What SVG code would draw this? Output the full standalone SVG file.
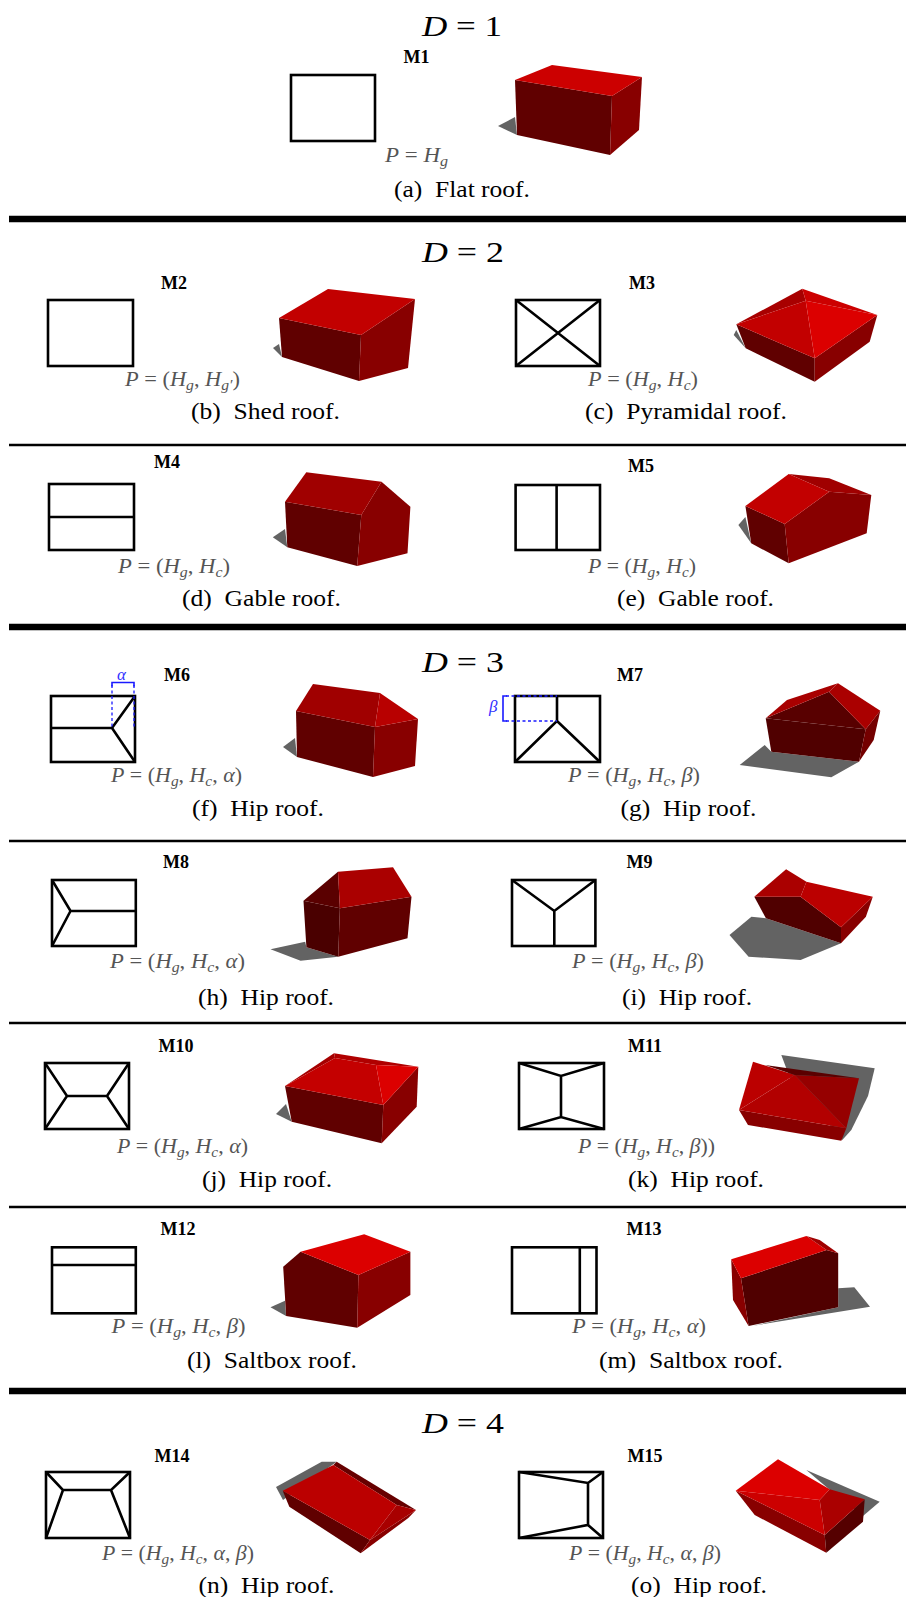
<svg xmlns="http://www.w3.org/2000/svg" width="906" height="1597" viewBox="0 0 906 1597">
<style>
  .bg{fill:#fff}
  .thin{stroke:#000;stroke-width:2.5}
  .thick{stroke:#000;stroke-width:6.5}
  .plan{fill:none;stroke:#000;stroke-width:2.6;stroke-linejoin:miter}
  text{font-family:'Liberation Serif','DejaVu Serif',serif}
  .mlab{font-weight:bold;font-size:18px;text-anchor:middle}
  .dlab{font-size:30px}
  .cap{font-size:24px}
  .par{font-size:20px;fill:#555}
  .i{font-style:italic}
  .sub{font-size:14px}
  .sh{fill:#636363}
  .w1{fill:#600000}
  .w2{fill:#880000}
  .dim{fill:none;stroke:#1a1aff;stroke-width:1.6}
  .dash{fill:none;stroke:#1a1aff;stroke-width:1.3;stroke-dasharray:3 2.5}
  .greek{font-style:italic;font-size:17px;fill:#3030ff}
</style>
<rect class="bg" x="0" y="0" width="906" height="1597"/>

<!-- horizontal rules between dimension groups and rows -->
<g id="rules">
  <line class="thick" x1="9" y1="219" x2="906" y2="219"/>
  <line class="thin" x1="9" y1="445" x2="906" y2="445"/>
  <line class="thick" x1="9" y1="627" x2="906" y2="627"/>
  <line class="thin" x1="9" y1="841" x2="906" y2="841"/>
  <line class="thin" x1="9" y1="1023" x2="906" y2="1023"/>
  <line class="thin" x1="9" y1="1207" x2="906" y2="1207"/>
  <line class="thick" x1="9" y1="1391" x2="906" y2="1391"/>
</g>

<!-- group headings -->
<g id="headings">
  <text class="dlab" x="422" y="36" textLength="80" lengthAdjust="spacingAndGlyphs"><tspan class="i">D</tspan> = 1</text>
  <text class="dlab" x="422" y="262" textLength="82" lengthAdjust="spacingAndGlyphs"><tspan class="i">D</tspan> = 2</text>
  <text class="dlab" x="422" y="672" textLength="82" lengthAdjust="spacingAndGlyphs"><tspan class="i">D</tspan> = 3</text>
  <text class="dlab" x="422" y="1433" textLength="82" lengthAdjust="spacingAndGlyphs"><tspan class="i">D</tspan> = 4</text>
</g>

<!-- M1 flat roof -->
<g id="m1">
  <text class="mlab" x="416.5" y="63">M1</text>
  <rect class="plan" x="291" y="75" width="84" height="66"/>
  <text class="par" x="385" y="162" textLength="63" lengthAdjust="spacingAndGlyphs"><tspan class="i">P</tspan> = <tspan class="i">H</tspan><tspan class="i sub" dy="4">g</tspan></text>
  <polygon class="sh" points="498,126 515,117 517,135"/>
  <polygon class="w1" points="515,80 612,96 610,155 517,135"/>
  <polygon class="w2" points="612,96 642,77 639,130 610,155"/>
  <polygon fill="#cc0000" points="515,80 552,65 642,77 612,96"/>
  <text class="cap" x="394" y="197" textLength="136" lengthAdjust="spacingAndGlyphs">(a)&#8194;Flat roof.</text>
</g>

<!-- M2 shed roof -->
<g id="m2">
  <text class="mlab" x="174" y="289">M2</text>
  <rect class="plan" x="48" y="300" width="85" height="66"/>
  <text class="par" x="125" y="386" textLength="115" lengthAdjust="spacingAndGlyphs"><tspan class="i">P</tspan> = (<tspan class="i">H</tspan><tspan class="i sub" dy="4">g</tspan><tspan dy="-4">, </tspan><tspan class="i">H</tspan><tspan class="i sub" dy="4">g′</tspan><tspan dy="-4">)</tspan></text>
  <polygon class="sh" points="273,348 279,344 282,357"/>
  <polygon class="w1" points="279,318 361,335 359,381 282,357"/>
  <polygon class="w2" points="361,335 415,299 408,368 359,381"/>
  <polygon fill="#c20000" points="279,318 328,289 415,299 361,335"/>
  <text class="cap" x="191" y="419" textLength="149" lengthAdjust="spacingAndGlyphs">(b)&#8194;Shed roof.</text>
</g>

<!-- M3 pyramidal roof -->
<g id="m3">
  <text class="mlab" x="642" y="289">M3</text>
  <rect class="plan" x="516" y="300" width="84" height="66"/>
  <path class="plan" d="M516,300 L600,366 M600,300 L516,366"/>
  <text class="par" x="588" y="386" textLength="110" lengthAdjust="spacingAndGlyphs"><tspan class="i">P</tspan> = (<tspan class="i">H</tspan><tspan class="i sub" dy="4">g</tspan><tspan dy="-4">, </tspan><tspan class="i">H</tspan><tspan class="i sub" dy="4">c</tspan><tspan dy="-4">)</tspan></text>
  <polygon class="sh" points="733.7,335 736.3,330 745.7,348.3"/>
  <polygon class="w1" points="736.3,324.3 814.7,358.3 814.7,381.7 745.7,348.3"/>
  <polygon class="w2" points="814.7,358.3 877.3,315 869.7,341.7 814.7,381.7"/>
  <polygon fill="#a80000" points="802.3,288.7 736.3,324.3 805.7,300.7"/>
  <polygon fill="#c20000" points="736.3,324.3 814.7,358.3 805.7,300.7"/>
  <polygon fill="#dc0000" points="814.7,358.3 877.3,315 805.7,300.7"/>
  <polygon fill="#cc0000" points="877.3,315 802.3,288.7 805.7,300.7"/>
  <text class="cap" x="585" y="419" textLength="202" lengthAdjust="spacingAndGlyphs">(c)&#8194;Pyramidal roof.</text>
</g>

<!-- M4 gable roof -->
<g id="m4">
  <text class="mlab" x="167" y="468">M4</text>
  <rect class="plan" x="49" y="484" width="85" height="66"/>
  <path class="plan" d="M49,517 H134"/>
  <text class="par" x="118" y="573" textLength="112" lengthAdjust="spacingAndGlyphs"><tspan class="i">P</tspan> = (<tspan class="i">H</tspan><tspan class="i sub" dy="4">g</tspan><tspan dy="-4">, </tspan><tspan class="i">H</tspan><tspan class="i sub" dy="4">c</tspan><tspan dy="-4">)</tspan></text>
  <polygon class="sh" points="272.8,537.3 285,529 287.3,547.3"/>
  <polygon class="w1" points="285,501.7 361.3,515 357.2,566 287.3,547.3"/>
  <polygon class="w2" points="361.3,515 381.5,481.7 410.4,506.7 407.5,553.3 357.2,566"/>
  <polygon fill="#a00000" points="285,501.7 306.3,472.3 381.5,481.7 361.3,515"/>
  <text class="cap" x="182" y="606" textLength="159" lengthAdjust="spacingAndGlyphs">(d)&#8194;Gable roof.</text>
</g>

<!-- M5 gable roof, ridge turned -->
<g id="m5">
  <text class="mlab" x="641" y="472">M5</text>
  <rect class="plan" x="515.6" y="485" width="84.4" height="65"/>
  <path class="plan" d="M556.6,485 V550"/>
  <text class="par" x="588" y="573" textLength="108" lengthAdjust="spacingAndGlyphs"><tspan class="i">P</tspan> = (<tspan class="i">H</tspan><tspan class="i sub" dy="4">g</tspan><tspan dy="-4">, </tspan><tspan class="i">H</tspan><tspan class="i sub" dy="4">c</tspan><tspan dy="-4">)</tspan></text>
  <polygon class="sh" points="738.4,525 745.4,517 751.2,543.3"/>
  <polygon class="w1" points="745.4,506 784.7,524 788.7,563.3 751.2,543.3"/>
  <polygon class="w2" points="784.7,524 829.2,491.7 871.3,495 866.7,533.3 788.7,563.3"/>
  <polygon fill="#a00000" points="788.7,474 829.2,478.3 871.3,495 829.2,491.7"/>
  <polygon fill="#c20000" points="745.4,506 788.7,474 829.2,491.7 784.7,524"/>
  <text class="cap" x="617" y="606" textLength="157" lengthAdjust="spacingAndGlyphs">(e)&#8194;Gable roof.</text>
</g>

<!-- M6 hip roof with alpha offset -->
<g id="m6">
  <text class="mlab" x="177" y="681">M6</text>
  <rect class="plan" x="51" y="696" width="84" height="66"/>
  <path class="plan" d="M51,728 H112 L135,696 M112,728 L135,762"/>
  <path class="dash" d="M112,685 V728 M134,685 V728"/>
  <path class="dim" d="M112,686.5 V682.5 H134 V686.5"/>
  <text class="greek" x="117" y="680">α</text>
  <text class="par" x="111" y="782" textLength="131" lengthAdjust="spacingAndGlyphs"><tspan class="i">P</tspan> = (<tspan class="i">H</tspan><tspan class="i sub" dy="4">g</tspan><tspan dy="-4">, </tspan><tspan class="i">H</tspan><tspan class="i sub" dy="4">c</tspan><tspan dy="-4">, </tspan><tspan class="i">α</tspan>)</text>
  <polygon class="sh" points="283,747 295,738 297,757"/>
  <polygon class="w1" points="296,711 375,727 373,777 297,757"/>
  <polygon class="w2" points="375,727 418,719 415,766 373,777"/>
  <polygon fill="#a00000" points="296,711 313,684 380,693 375,727"/>
  <polygon fill="#b80000" points="380,693 418,719 375,727"/>
  <text class="cap" x="192" y="816" textLength="132" lengthAdjust="spacingAndGlyphs">(f)&#8194;Hip roof.</text>
</g>

<!-- M7 hip roof with beta offset -->
<g id="m7">
  <text class="mlab" x="630" y="681">M7</text>
  <rect class="plan" x="515" y="696" width="85" height="66"/>
  <path class="plan" d="M557,696 V721 L515,762 M557,721 L600,762"/>
  <path class="dash" d="M506,696 H557 M506,721 H557"/>
  <path class="dim" d="M507,696 H503 V721 H507"/>
  <text class="greek" x="489" y="712">β</text>
  <text class="par" x="568" y="782" textLength="132" lengthAdjust="spacingAndGlyphs"><tspan class="i">P</tspan> = (<tspan class="i">H</tspan><tspan class="i sub" dy="4">g</tspan><tspan dy="-4">, </tspan><tspan class="i">H</tspan><tspan class="i sub" dy="4">c</tspan><tspan dy="-4">, </tspan><tspan class="i">β</tspan>)</text>
  <polygon class="sh" points="739.7,765 764.7,745 771.3,751.7 859,761.7 831.3,777.3"/>
  <polygon fill="#500000" points="765.7,718.3 865.7,729.3 859,761.7 771.3,751.7"/>
  <polygon fill="#580000" points="765.7,718.3 829,691.7 865.7,729.3"/>
  <polygon fill="#a80000" points="765.7,718.3 787,700 838,683.3 829,691.7"/>
  <polygon fill="#aa0000" points="829,691.7 838,683.3 880.3,710.7 865.7,729.3"/>
  <polygon fill="#740000" points="865.7,729.3 880.3,710.7 873.7,740 859,761.7"/>
  <text class="cap" x="620.5" y="816" textLength="136" lengthAdjust="spacingAndGlyphs">(g)&#8194;Hip roof.</text>
</g>

<!-- M8 hip roof, hip on the short side -->
<g id="m8">
  <text class="mlab" x="176" y="868">M8</text>
  <rect class="plan" x="52" y="880" width="83.8" height="66"/>
  <path class="plan" d="M135.8,911 H70.5 L52,880 M70.5,911 L52,946"/>
  <text class="par" x="110" y="968" textLength="135" lengthAdjust="spacingAndGlyphs"><tspan class="i">P</tspan> = (<tspan class="i">H</tspan><tspan class="i sub" dy="4">g</tspan><tspan dy="-4">, </tspan><tspan class="i">H</tspan><tspan class="i sub" dy="4">c</tspan><tspan dy="-4">, </tspan><tspan class="i">α</tspan>)</text>
  <polygon class="sh" points="270.5,949.3 305.2,941.7 306.4,947.3 338.2,956.7 300.6,960.7"/>
  <polygon fill="#4a0000" points="303.5,900.7 339.9,908.3 338.2,956.7 306.4,947.3"/>
  <polygon class="w1" points="339.9,908.3 411.5,896.7 407.5,938.3 338.2,956.7"/>
  <polygon fill="#5a0000" points="303.5,900.7 338,871.7 339.9,908.3"/>
  <polygon fill="#aa0000" points="338,871.7 393,867.3 411.5,896.7 339.9,908.3"/>
  <text class="cap" x="198" y="1005" textLength="136" lengthAdjust="spacingAndGlyphs">(h)&#8194;Hip roof.</text>
</g>

<!-- M9 hip roof, Y ridge -->
<g id="m9">
  <text class="mlab" x="639.5" y="868">M9</text>
  <rect class="plan" x="512" y="880" width="83.4" height="66"/>
  <path class="plan" d="M512,880 L554.3,911 L595.4,880 M554.3,911 V946"/>
  <text class="par" x="572" y="968" textLength="132" lengthAdjust="spacingAndGlyphs"><tspan class="i">P</tspan> = (<tspan class="i">H</tspan><tspan class="i sub" dy="4">g</tspan><tspan dy="-4">, </tspan><tspan class="i">H</tspan><tspan class="i sub" dy="4">c</tspan><tspan dy="-4">, </tspan><tspan class="i">β</tspan>)</text>
  <polygon class="sh" points="729.5,935 751.4,916.7 765.9,918.3 841,943.3 800.6,960 748.6,956.7"/>
  <polygon fill="#500000" points="754.3,896.7 800.6,896.7 841,927.3 841,943.3 765.9,918.3"/>
  <polygon class="w2" points="841,927.3 872.8,896.7 865.9,916.7 841,943.3"/>
  <polygon fill="#aa0000" points="754.3,896.7 786.1,869.3 806.4,881.7 800.6,896.7"/>
  <polygon fill="#bb0000" points="806.4,881.7 872.8,896.7 841,927.3 800.6,896.7"/>
  <text class="cap" x="622" y="1005" textLength="130" lengthAdjust="spacingAndGlyphs">(i)&#8194;Hip roof.</text>
</g>

<!-- M10 hip roof, hips on both ends -->
<g id="m10">
  <text class="mlab" x="176" y="1052">M10</text>
  <rect class="plan" x="45" y="1063" width="84" height="66"/>
  <path class="plan" d="M45,1063 L67,1096 L45,1129 M67,1096 H107 M129,1063 L107,1096 L129,1129"/>
  <text class="par" x="117" y="1153" textLength="131" lengthAdjust="spacingAndGlyphs"><tspan class="i">P</tspan> = (<tspan class="i">H</tspan><tspan class="i sub" dy="4">g</tspan><tspan dy="-4">, </tspan><tspan class="i">H</tspan><tspan class="i sub" dy="4">c</tspan><tspan dy="-4">, </tspan><tspan class="i">α</tspan>)</text>
  <polygon class="sh" points="276,1114 286,1104 291.7,1121.7"/>
  <polygon class="w1" points="285,1086 383.3,1105 381.7,1143.3 291.7,1121.7"/>
  <polygon class="w2" points="383.3,1105 418.3,1066.7 416.7,1106.7 381.7,1143.3"/>
  <polygon fill="#b00000" points="334,1053.3 418.3,1066.7 376,1065 335,1058"/>
  <polygon fill="#a60000" points="285,1086 334,1053.3 335,1058"/>
  <polygon fill="#c40000" points="285,1086 335,1058 376,1065 383.3,1105"/>
  <polygon fill="#dc0000" points="376,1065 418.3,1066.7 383.3,1105"/>
  <text class="cap" x="202" y="1187" textLength="130" lengthAdjust="spacingAndGlyphs">(j)&#8194;Hip roof.</text>
</g>

<!-- M11 hip roof, hips on long sides -->
<g id="m11">
  <text class="mlab" x="645" y="1052">M11</text>
  <rect class="plan" x="519" y="1063" width="85" height="66"/>
  <path class="plan" d="M519,1063 L561,1076 L604,1063 M561,1076 V1117 M519,1129 L561,1117 L604,1129"/>
  <text class="par" x="578" y="1153" textLength="137" lengthAdjust="spacingAndGlyphs"><tspan class="i">P</tspan> = (<tspan class="i">H</tspan><tspan class="i sub" dy="4">g</tspan><tspan dy="-4">, </tspan><tspan class="i">H</tspan><tspan class="i sub" dy="4">c</tspan><tspan dy="-4">, </tspan><tspan class="i">β</tspan>))</text>
  <polygon class="sh" points="781.3,1055 874.7,1068.3 868,1096 851.3,1130 842.3,1140 790,1078"/>
  <polygon class="w2" points="739,1110 846.3,1128.3 841.3,1140.7 748,1125"/>
  <polygon fill="#bb0000" points="753,1061.7 794.7,1075 739,1110"/>
  <polygon fill="#b20000" points="794.7,1075 846.3,1128.3 739,1110"/>
  <polygon fill="#960000" points="794.7,1075 859,1078.3 846.3,1128.3"/>
  <polygon fill="#5a0000" points="765,1065 794.7,1075 859,1078.3"/>
  <text class="cap" x="628" y="1187" textLength="136" lengthAdjust="spacingAndGlyphs">(k)&#8194;Hip roof.</text>
</g>

<!-- M12 saltbox roof -->
<g id="m12">
  <text class="mlab" x="178" y="1235">M12</text>
  <rect class="plan" x="52" y="1247.3" width="83.8" height="66"/>
  <path class="plan" d="M52,1265 H135.8"/>
  <text class="par" x="111.6" y="1333" textLength="134" lengthAdjust="spacingAndGlyphs"><tspan class="i">P</tspan> = (<tspan class="i">H</tspan><tspan class="i sub" dy="4">g</tspan><tspan dy="-4">, </tspan><tspan class="i">H</tspan><tspan class="i sub" dy="4">c</tspan><tspan dy="-4">, </tspan><tspan class="i">β</tspan>)</text>
  <polygon class="sh" points="270.5,1307.3 285,1300.7 286.1,1316"/>
  <polygon class="w1" points="283.2,1266.7 300.6,1251.7 358.4,1275 357.2,1327.7 286.1,1316"/>
  <polygon class="w2" points="358.4,1275 410.4,1251.7 410.4,1295 357.2,1327.7"/>
  <polygon fill="#dc0000" points="300.6,1251.7 364.2,1234.3 410.4,1251.7 358.4,1275"/>
  <text class="cap" x="187" y="1368" textLength="170" lengthAdjust="spacingAndGlyphs">(l)&#8194;Saltbox roof.</text>
</g>

<!-- M13 saltbox roof, ridge turned -->
<g id="m13">
  <text class="mlab" x="644" y="1235">M13</text>
  <rect class="plan" x="512" y="1247.3" width="84.5" height="66"/>
  <path class="plan" d="M579.8,1247.3 V1313.3"/>
  <text class="par" x="572" y="1333" textLength="134" lengthAdjust="spacingAndGlyphs"><tspan class="i">P</tspan> = (<tspan class="i">H</tspan><tspan class="i sub" dy="4">g</tspan><tspan dy="-4">, </tspan><tspan class="i">H</tspan><tspan class="i sub" dy="4">c</tspan><tspan dy="-4">, </tspan><tspan class="i">α</tspan>)</text>
  <polygon class="sh" points="838.2,1288.3 854.3,1287.3 870,1306.7 752,1326 838.2,1307.3"/>
  <polygon fill="#500000" points="741,1278.3 826.5,1250 838.2,1253.3 838.2,1307.3 748.6,1326"/>
  <polygon class="w2" points="731.2,1259.3 741,1278.3 748.6,1326 733,1300"/>
  <polygon fill="#dc0000" points="731.2,1259.3 806.4,1236 826.5,1250 741,1278.3"/>
  <polygon fill="#a00000" points="806.4,1236 819.7,1240 838.2,1253.3 826.5,1250"/>
  <text class="cap" x="599" y="1368" textLength="184" lengthAdjust="spacingAndGlyphs">(m)&#8194;Saltbox roof.</text>
</g>

<!-- M14 hip roof, trapezoid ridge -->
<g id="m14">
  <text class="mlab" x="172" y="1462">M14</text>
  <rect class="plan" x="46" y="1472" width="84" height="66"/>
  <path class="plan" d="M46,1472 L63,1490 L46,1538 M63,1490 H111 M130,1472 L111,1490 L130,1538"/>
  <text class="par" x="102" y="1560" textLength="152" lengthAdjust="spacingAndGlyphs"><tspan class="i">P</tspan> = (<tspan class="i">H</tspan><tspan class="i sub" dy="4">g</tspan><tspan dy="-4">, </tspan><tspan class="i">H</tspan><tspan class="i sub" dy="4">c</tspan><tspan dy="-4">, </tspan><tspan class="i">α</tspan>, <tspan class="i">β</tspan>)</text>
  <polygon class="sh" points="276,1487 321.7,1461.7 336.7,1461.7 283,1500"/>
  <polygon class="w1" points="282.7,1490.7 370,1540 360.7,1553.3 289.3,1506.7"/>
  <polygon class="w2" points="370,1540 416,1510 408.3,1518 360.7,1553.3"/>
  <polygon fill="#660000" points="333.3,1465 336.7,1461.7 416,1510 396.7,1505"/>
  <polygon fill="#bb0000" points="282.7,1490.7 333.3,1465 396.7,1505 370,1540"/>
  <polygon fill="#a80000" points="396.7,1505 416,1510 370,1540"/>
  <text class="cap" x="198.5" y="1593" textLength="136" lengthAdjust="spacingAndGlyphs">(n)&#8194;Hip roof.</text>
</g>

<!-- M15 hip roof, skewed ridge -->
<g id="m15">
  <text class="mlab" x="645" y="1462">M15</text>
  <rect class="plan" x="519" y="1472" width="84" height="66"/>
  <path class="plan" d="M519,1472 L588,1483 L603,1472 M588,1483 V1525 M519,1538 L588,1525 L603,1538"/>
  <text class="par" x="569" y="1560" textLength="152" lengthAdjust="spacingAndGlyphs"><tspan class="i">P</tspan> = (<tspan class="i">H</tspan><tspan class="i sub" dy="4">g</tspan><tspan dy="-4">, </tspan><tspan class="i">H</tspan><tspan class="i sub" dy="4">c</tspan><tspan dy="-4">, </tspan><tspan class="i">α</tspan>, <tspan class="i">β</tspan>)</text>
  <polygon class="sh" points="806.3,1470 879.7,1501.7 863,1516 830,1490"/>
  <polygon class="w2" points="735.7,1490.7 824.7,1535 826.3,1552.7 754.7,1515"/>
  <polygon fill="#550000" points="824.7,1535 864.7,1499.3 863,1521.7 826.3,1552.7"/>
  <polygon fill="#cc0000" points="735.7,1490.7 819.7,1500 824.7,1535"/>
  <polygon fill="#dc0000" points="735.7,1490.7 778,1459.3 829.7,1489.3 819.7,1500"/>
  <polygon fill="#aa0000" points="829.7,1489.3 864.7,1499.3 824.7,1535 819.7,1500"/>
  <text class="cap" x="631" y="1593" textLength="136" lengthAdjust="spacingAndGlyphs">(o)&#8194;Hip roof.</text>
</g>
</svg>
